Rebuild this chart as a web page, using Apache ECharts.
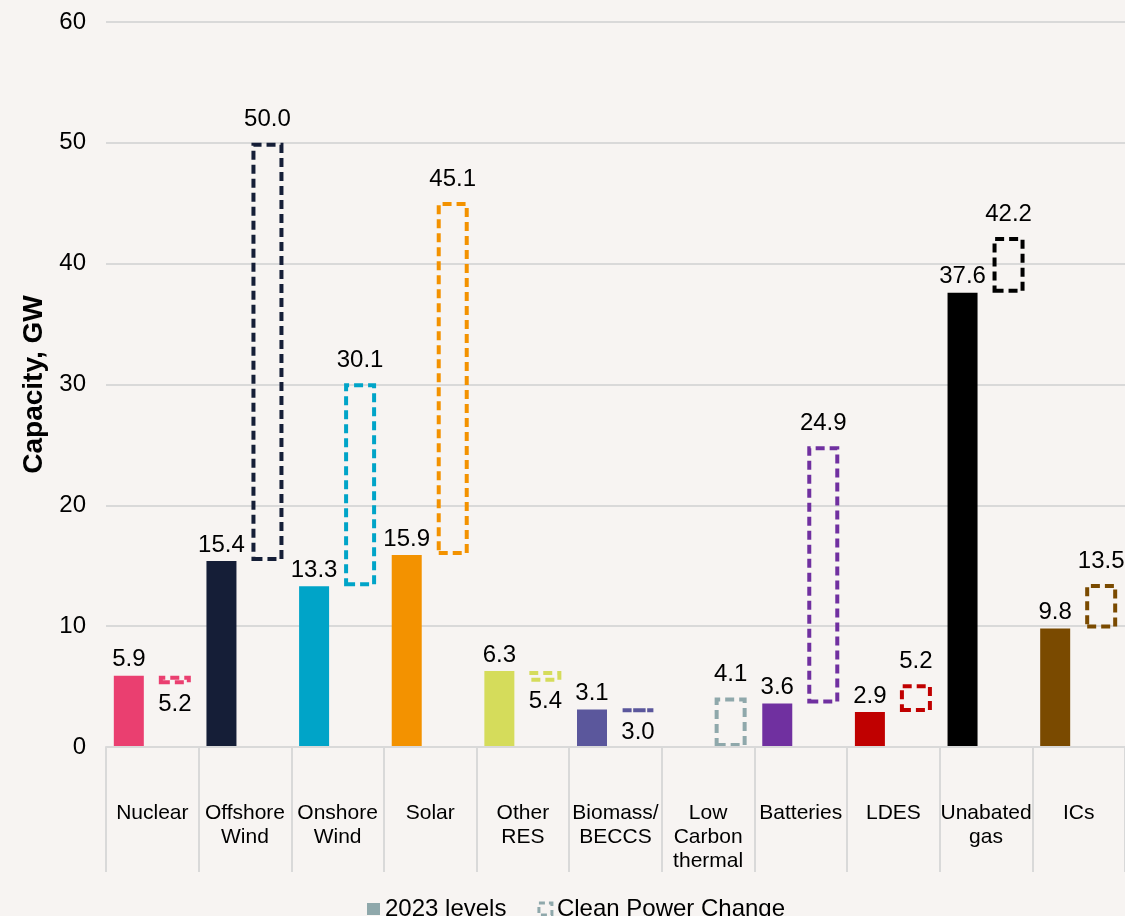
<!DOCTYPE html>
<html>
<head>
<meta charset="utf-8">
<script src="https://cdn.jsdelivr.net/npm/echarts/dist/echarts.min.js"></script>
<style>
  html, body { margin: 0; padding: 0; background: #F7F4F2; }
  #chart { width: 1125px; height: 916px; }
</style>
</head>
<body>
<div id="chart"></div>
<script>
// Installed capacity by technology: 2023 levels vs Clean Power 2030 change (GW)
const categories = ['Nuclear', 'Offshore\nWind', 'Onshore\nWind', 'Solar', 'Other\nRES', 'Biomass/\nBECCS',
  'Low\nCarbon\nthermal', 'Batteries', 'LDES', 'Unabated\ngas', 'ICs'];
const levels2023 = [5.9, 15.4, 13.3, 15.9, 6.3, 3.1, 0, 3.6, 2.9, 37.6, 9.8];
const cleanPower = [5.2, 50.0, 30.1, 45.1, 5.4, 3.0, 4.1, 24.9, 5.2, 42.2, 13.5];
const yTicks = [0, 10, 20, 30, 40, 50, 60];

const palette = ['#EA3F70', '#151E37', '#00A4C8', '#F39200', '#D5DC5B', '#5B579C',
  '#8FA8AB', '#7030A0', '#C00000', '#000000', '#7A4A00'];
const legendGrey = '#8FA8AB';
const FONT = '"Liberation Sans", Arial, Helvetica, sans-serif';
const dash = [9, 5];

const fmt = v => Number(v).toFixed(1);

// solid bars (value 0 means no bar)
const solidData = levels2023.map((v, i) => v > 0
  ? { value: v, itemStyle: { color: palette[i] } }
  : '-');

// floating dashed box spans from the lower to the higher of the two levels
const baseData = levels2023.map((v, i) => Math.min(v, cleanPower[i]));
const boxData = levels2023.map((v, i) => {
  const up = cleanPower[i] >= v;
  return {
    value: Math.abs(cleanPower[i] - v),
    itemStyle: { borderColor: palette[i] },
    label: {
      position: up ? 'top' : 'bottom',
      distance: up ? 11 : 8,
      formatter: () => fmt(cleanPower[i])
    }
  };
});

const chart = echarts.init(document.getElementById('chart'), null, { renderer: 'canvas' });
chart.setOption({
  backgroundColor: '#F7F4F2',
  animation: false,
  textStyle: { fontFamily: FONT },
  grid: { left: 106, top: 22, width: 1021, height: 725 },
  legend: {
    left: 367,
    top: 897,
    padding: 0,
    itemWidth: 13,
    itemHeight: 12,
    itemGap: 31,
    selectedMode: false,
    textStyle: { fontSize: 24, color: '#000', fontFamily: FONT },
    data: [
      { name: '2023 levels', icon: 'rect', itemStyle: { color: legendGrey } },
      { name: 'Clean Power Change', icon: 'rect',
        itemStyle: { color: 'transparent', borderColor: legendGrey, borderWidth: 3, borderType: [6, 4] } }
    ]
  },
  xAxis: {
    type: 'category',
    data: categories,
    z: 3,
    axisLine: { lineStyle: { color: '#D9D9D9', width: 2 } },
    axisTick: { show: true, length: 125, alignWithLabel: false, lineStyle: { color: '#D9D9D9', width: 2 } },
    axisLabel: { interval: 0, fontSize: 21, lineHeight: 24, margin: 54, color: '#000', fontFamily: FONT }
  },
  yAxis: {
    type: 'value',
    min: yTicks[0],
    max: yTicks[yTicks.length - 1],
    interval: yTicks[1] - yTicks[0],
    name: 'Capacity, GW',
    nameLocation: 'middle',
    nameGap: 54,
    nameTextStyle: { fontSize: 28, fontWeight: 'bold', color: '#000', fontFamily: FONT },
    axisLine: { show: false },
    axisTick: { show: false },
    axisLabel: { fontSize: 24, margin: 20, color: '#000', fontFamily: FONT },
    splitLine: { lineStyle: { color: '#D9D9D9', width: 2 } }
  },
  series: [
    {
      name: '2023 levels',
      type: 'bar',
      barWidth: 30,
      barGap: '50%',
      itemStyle: { color: legendGrey },
      data: solidData,
      label: {
        show: true, position: 'top', distance: 4,
        fontSize: 24, color: '#000', fontFamily: FONT,
        formatter: p => fmt(p.value)
      }
    },
    {
      name: 'base',
      type: 'bar',
      stack: 'change',
      barWidth: 32,
      barGap: '50%',
      silent: true,
      itemStyle: { color: 'transparent' },
      data: baseData
    },
    {
      name: 'Clean Power Change',
      type: 'bar',
      stack: 'change',
      barWidth: 32,
      barGap: '50%',
      itemStyle: { color: 'transparent', borderWidth: 4, borderType: dash, borderColor: legendGrey },
      data: boxData,
      label: { show: true, fontSize: 24, color: '#000', fontFamily: FONT }
    }
  ]
});
</script>
</body>
</html>
